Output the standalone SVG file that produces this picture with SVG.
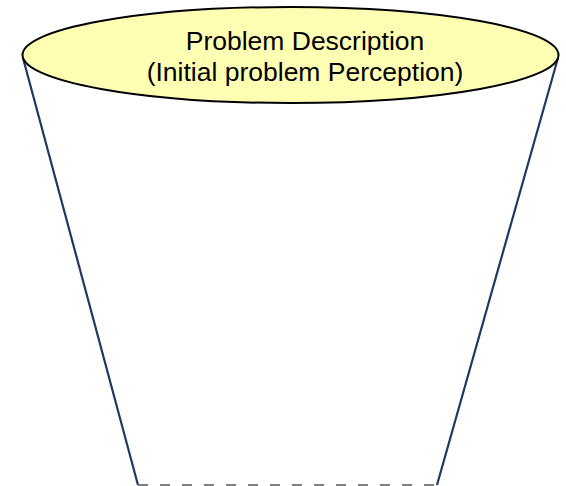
<svg xmlns="http://www.w3.org/2000/svg" width="566" height="486" viewBox="0 0 566 486">
<style>
.side{stroke:#1F3864;stroke-width:2.2;fill:none}
.base{stroke:#555;stroke-width:1.3;stroke-dasharray:10 12;fill:none}
.lbl{font-family:"Liberation Sans",Arial,sans-serif;font-size:26.5px;fill:#000;text-anchor:middle}
</style>
<rect width="566" height="486" fill="#fff"/>
<g id="connectors">
<line class="side" x1="23" y1="58" x2="138" y2="485"/>
<line class="side" x1="558" y1="58" x2="437" y2="485"/>
<line class="base" x1="138" y1="485" x2="437" y2="485"/>
</g>
<g id="problem">
<ellipse cx="290.5" cy="55" rx="268" ry="48" fill="#FFFFB3" stroke="#000" stroke-width="2"/>
<text class="lbl" x="305" y="49.5">Problem Description</text>
<text class="lbl" x="305" y="81">(Initial problem Perception)</text>
</g>
</svg>
